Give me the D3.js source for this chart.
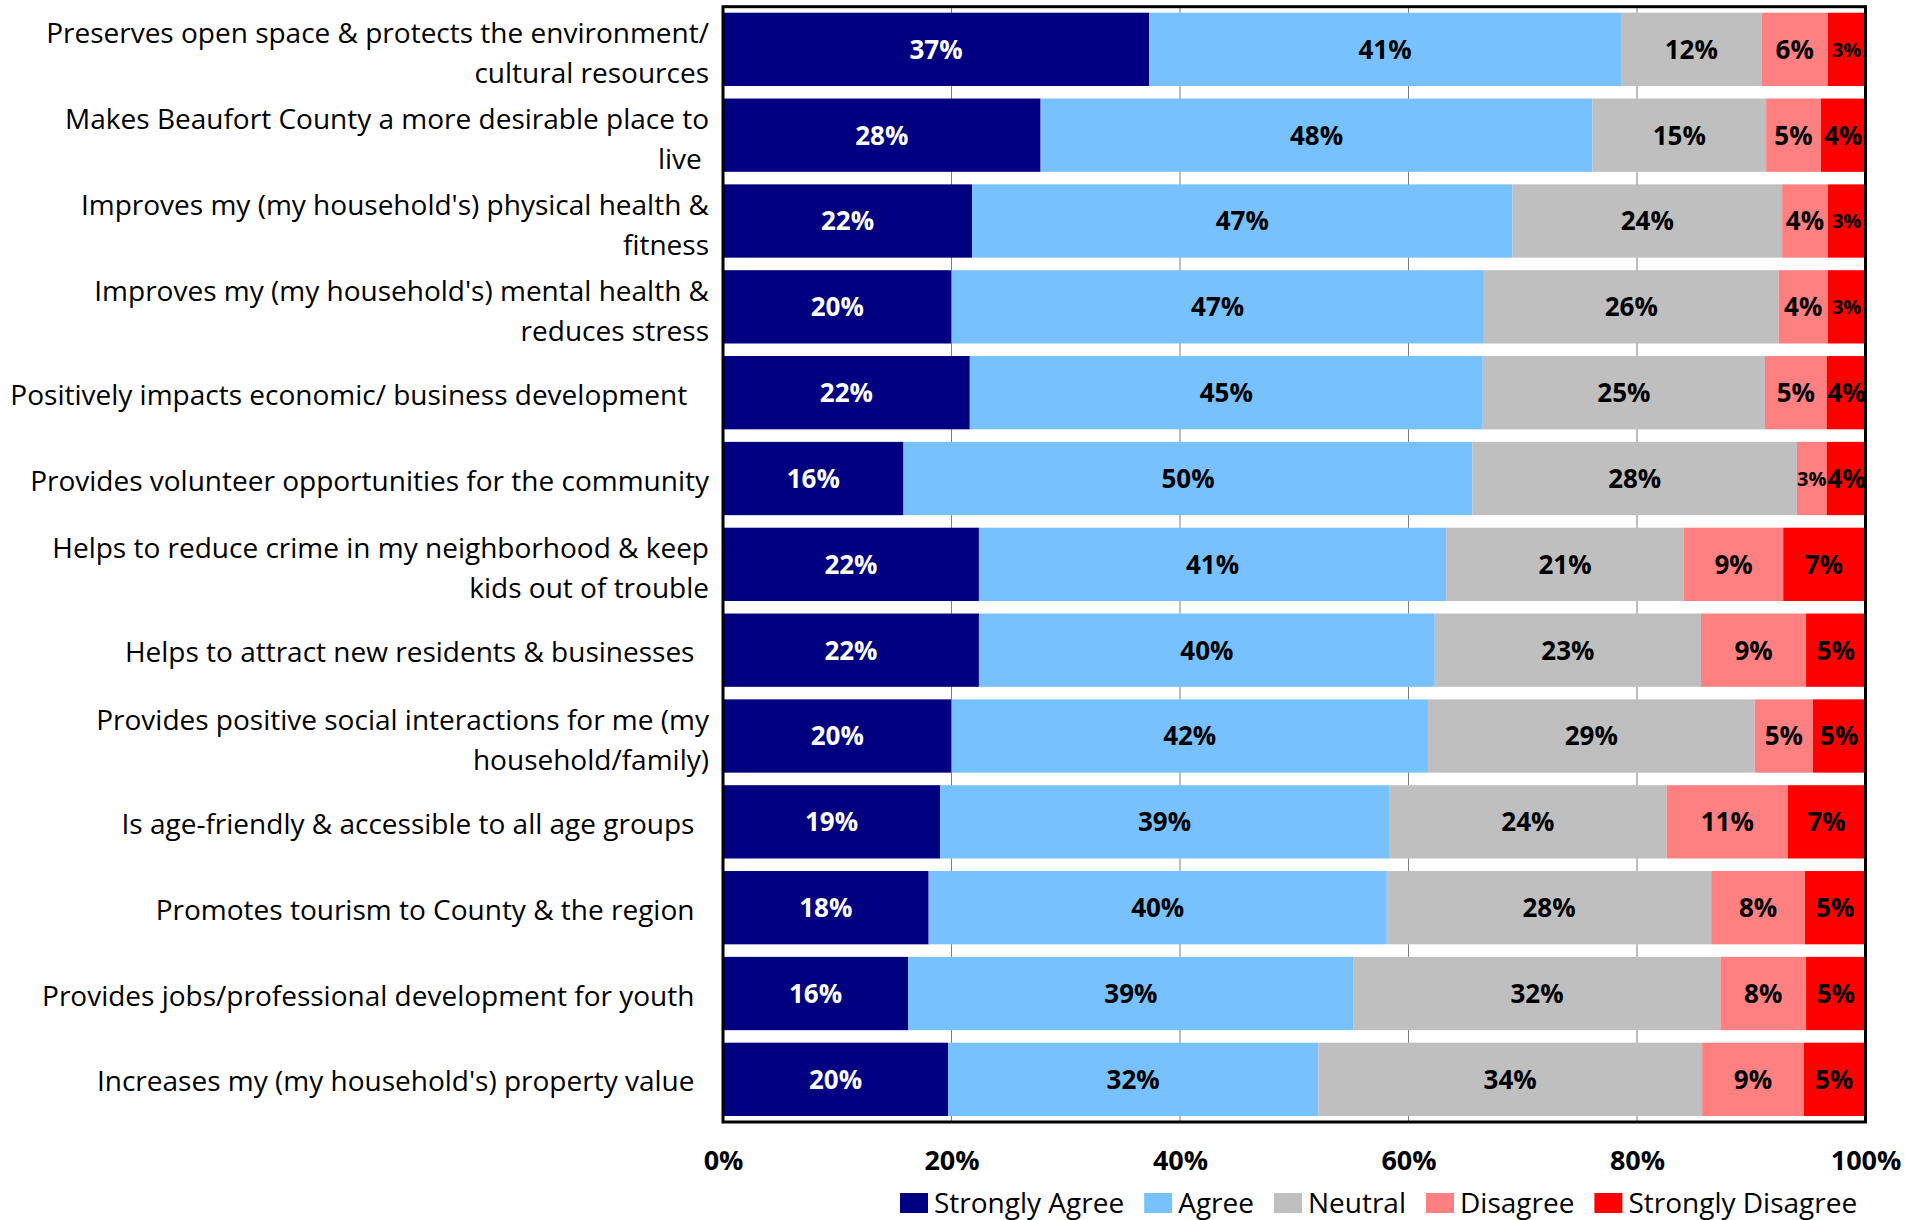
<!DOCTYPE html>
<html>
<head>
<meta charset="utf-8">
<script src="https://cdn.jsdelivr.net/npm/d3@7"></script>
<style>
  body { margin: 0; background: #fff; }
  svg { display: block; font-family: "Open Sans", "Noto Sans", sans-serif; }
  .cat { white-space: pre; }
</style>
</head>
<body>
<svg id="chart" width="1927" height="1220"></svg>
<script>
// categories (top to bottom), line breaks as in the original labels
var categories = [
    "Preserves open space & protects the environment/\ncultural resources",
    "Makes Beaufort County a more desirable place to\nlive ",
    "Improves my (my household's) physical health &\nfitness",
    "Improves my (my household's) mental health &\nreduces stress",
    "Positively impacts economic/ business development   ",
    "Provides volunteer opportunities for the community",
    "Helps to reduce crime in my neighborhood & keep\nkids out of trouble",
    "Helps to attract new residents & businesses  ",
    "Provides positive social interactions for me (my\nhousehold/family)",
    "Is age-friendly & accessible to all age groups  ",
    "Promotes tourism to County & the region  ",
    "Provides jobs/professional development for youth  ",
    "Increases my (my household's) property value  "
];

var seriesNames = ["Strongly Agree", "Agree", "Neutral", "Disagree", "Strongly Disagree"];

var strongAgree    = [37.3, 27.8, 21.8, 20.0, 21.6, 15.8, 22.4, 22.4, 20.0, 19.0, 18.0, 16.2, 19.7];
var agree          = [41.3, 48.3, 47.3, 46.6, 44.9, 49.8, 40.9, 39.9, 41.7, 39.3, 40.1, 39.0, 32.4];
var neutral        = [12.3, 15.2, 23.6, 25.8, 24.7, 28.4, 20.8, 23.3, 28.6, 24.3, 28.4, 32.1, 33.6];
var disagree       = [5.8, 4.8, 4.0, 4.3, 5.4, 2.6, 8.7, 9.2, 5.1, 10.6, 8.2, 7.5, 8.9];
var strongDisagree = [3.3, 3.9, 3.3, 3.3, 3.5, 3.5, 7.1, 5.2, 4.6, 6.8, 5.3, 5.2, 5.3];

var xTicks = [0, 20, 40, 60, 80, 100];

var colors = {
    "Strongly Agree": "#000080",
    "Agree": "#77C1FF",
    "Neutral": "#BFBFBF",
    "Disagree": "#FF8080",
    "Strongly Disagree": "#FF0000"
};

var records = categories.map(function(c, i) {
    return {
        category: c,
        "Strongly Agree": strongAgree[i],
        "Agree": agree[i],
        "Neutral": neutral[i],
        "Disagree": disagree[i],
        "Strongly Disagree": strongDisagree[i]
    };
});

var svg = d3.select("#chart");

var plotLeft = 723, plotRight = 1865.5, plotTop = 6.7, plotBottom = 1122;

var xScale = d3.scaleLinear()
    .domain([0, 100])
    .range([plotLeft, plotRight]);

var yScale = d3.scaleBand()
    .domain(d3.range(categories.length))
    .range([plotTop, plotBottom])
    .paddingInner(0.146)
    .paddingOuter(0.07);

// gridlines behind the bars
svg.append("g")
    .attr("class", "grid")
    .selectAll("line")
    .data(xTicks.slice(1, -1))
    .enter().append("line")
    .attr("x1", function(d) { return xScale(d); })
    .attr("x2", function(d) { return xScale(d); })
    .attr("y1", plotTop)
    .attr("y2", plotBottom)
    .style("stroke", "#7f7f7f")
    .style("stroke-width", 1);

var stack = d3.stack().keys(seriesNames);
var series = stack(records);

var layers = svg.selectAll(".layer")
    .data(series)
    .enter().append("g")
    .attr("class", "layer")
    .style("fill", function(d) { return colors[d.key]; });

layers.selectAll("rect")
    .data(function(d) { return d; })
    .enter().append("rect")
    .attr("x", function(d) { return xScale(d[0]); })
    .attr("width", function(d) { return xScale(d[1]) - xScale(d[0]); })
    .attr("y", function(d, i) { return yScale(i); })
    .attr("height", yScale.bandwidth());

// data labels, smaller when the segment is too narrow
layers.each(function(s) {
    var g = d3.select(this);
    g.selectAll("text")
        .data(s)
        .enter().append("text")
        .attr("x", function(d) { return (xScale(d[0]) + xScale(d[1])) / 2; })
        .attr("y", function(d, i) { return yScale(i) + yScale.bandwidth() / 2; })
        .attr("dy", "0.36em")
        .attr("text-anchor", "middle")
        .style("font-size", "26px")
        .style("font-weight", "bold")
        .style("fill", s.key == "Strongly Agree" ? "#fff" : "#000")
        .text(function(d) { return Math.round(d.data[s.key]) + "%"; })
        .each(function(d) {
            var w = xScale(d[1]) - xScale(d[0]);
            if (this.getComputedTextLength() > w - 1) {
                d3.select(this).style("font-size", "20px");
            }
        });
});

// frame
svg.append("rect")
    .attr("x", plotLeft)
    .attr("y", plotTop)
    .attr("width", plotRight - plotLeft)
    .attr("height", plotBottom - plotTop)
    .style("fill", "none")
    .style("stroke", "#000")
    .style("stroke-width", 3);

// category labels
var lineGap = 40;
svg.append("g")
    .selectAll("text")
    .data(categories)
    .enter().append("text")
    .attr("class", "cat")
    .attr("text-anchor", "end")
    .style("font-size", "28px")
    .style("fill", "#000")
    .each(function(c, i) {
        var lines = c.split("\n");
        var cy = yScale(i) + yScale.bandwidth() / 2 + (lines.length > 1 ? 4 : 2);
        var t = d3.select(this);
        lines.forEach(function(line, k) {
            t.append("tspan")
                .attr("x", 709)
                .attr("y", cy + (k - (lines.length - 1) / 2) * lineGap)
                .attr("dy", "0.36em")
                .text(line);
        });
    });

// x axis labels
var xAxis = d3.axisBottom(xScale)
    .tickValues(xTicks)
    .tickSize(0)
    .tickPadding(0)
    .tickFormat(function(d) { return d + "%"; });

var axisG = svg.append("g")
    .attr("transform", "translate(0," + 1160 + ")")
    .call(xAxis);
axisG.select(".domain").remove();
axisG.selectAll("text")
    .attr("y", 0)
    .attr("dy", "0.36em")
    .style("font-family", "\"Open Sans\", sans-serif")
    .style("font-size", "27px")
    .style("font-weight", "bold")
    .style("fill", "#000");

// legend
var legend = svg.append("g").attr("class", "legend");
var lx = 900;
seriesNames.forEach(function(name) {
    legend.append("rect")
        .attr("x", lx)
        .attr("y", 1193)
        .attr("width", 28)
        .attr("height", 20)
        .style("fill", colors[name]);
    var t = legend.append("text")
        .attr("x", lx + 34)
        .attr("y", 1203)
        .attr("dy", "0.36em")
        .style("font-size", "28px")
        .style("fill", "#000")
        .text(name);
    lx = lx + 34 + t.node().getComputedTextLength() + 20;
});
</script>
</body>
</html>
